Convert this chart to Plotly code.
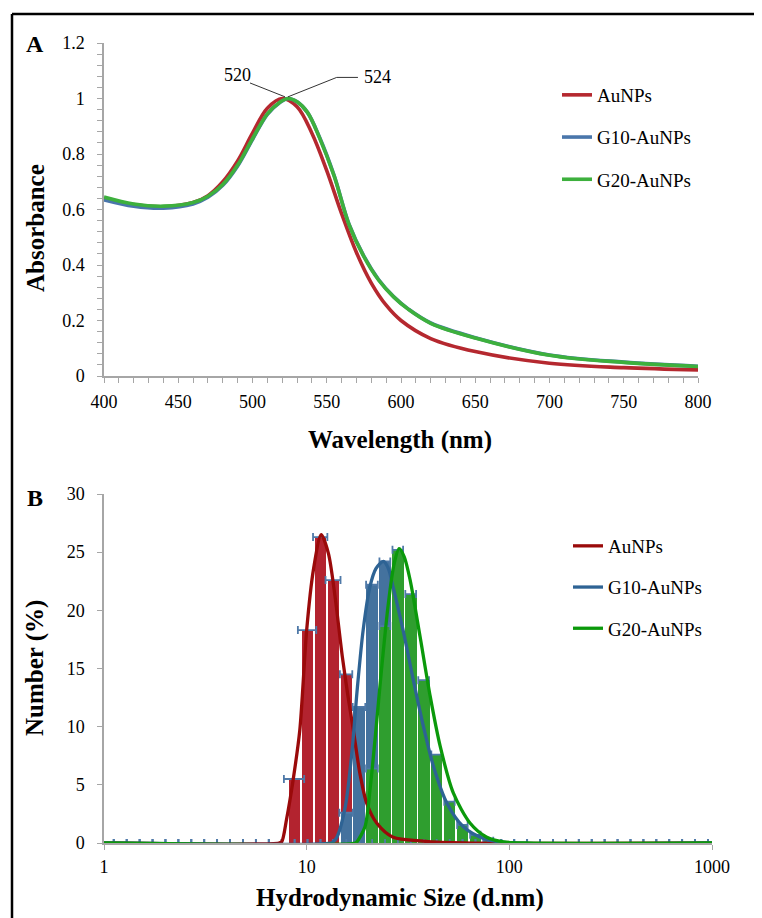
import plotly.graph_objects as go

# ---------------- Panel A: UV-vis spectra ----------------
wl_red = [400, 420, 440, 460, 470, 480, 490, 500, 510, 520, 530, 540, 550, 560, 570, 580, 590, 600, 620, 650, 700, 750, 800]
abs_red = [0.640, 0.618, 0.610, 0.625, 0.650, 0.700, 0.775, 0.875, 0.965, 1.000, 0.970, 0.875, 0.740, 0.585, 0.445, 0.335, 0.255, 0.200, 0.135, 0.088, 0.046, 0.030, 0.022]

wl_g10 = [400, 420, 440, 460, 470, 480, 490, 500, 510, 518, 524, 530, 537, 545, 555, 565, 575, 585, 595, 605, 620, 650, 700, 750, 800]
abs_g10 = [0.635, 0.612, 0.605, 0.620, 0.644, 0.687, 0.757, 0.852, 0.943, 0.984, 1.000, 0.988, 0.950, 0.862, 0.722, 0.547, 0.432, 0.347, 0.286, 0.241, 0.191, 0.138, 0.076, 0.050, 0.035]

wl_g20 = [400, 420, 440, 460, 470, 480, 490, 500, 510, 518, 524, 530, 537, 545, 555, 565, 575, 585, 595, 605, 620, 650, 700, 750, 800]
abs_g20 = [0.645, 0.620, 0.612, 0.625, 0.648, 0.690, 0.760, 0.855, 0.945, 0.985, 1.000, 0.988, 0.950, 0.860, 0.720, 0.545, 0.430, 0.345, 0.285, 0.240, 0.190, 0.137, 0.075, 0.049, 0.034]

# ---------------- Panel B: DLS number distribution ----------------
bins = [1.117, 1.294, 1.499, 1.736, 2.010, 2.328, 2.696, 3.122, 3.615, 4.187, 4.849, 5.615, 6.503, 7.531,
        8.721, 10.10, 11.70, 13.54, 15.69, 18.17, 21.04, 24.36, 28.21, 32.67, 37.84, 43.82, 50.75, 58.77,
        68.06, 78.82, 91.28, 105.7, 122.4, 141.8, 164.2, 190.1, 220.2, 255.0, 295.3, 342.0, 396.1, 458.7,
        531.2, 615.1, 712.4, 825.0, 955.4]

n = len(bins)
red_num = [0.0] * n
blue_num = [0.0] * n
green_num = [0.0] * n
red_err = [0.0] * n
blue_err = [0.0] * n
green_err = [0.0] * n

red_peak = {8.721: (5.5, 1.0), 10.10: (18.3, 1.05), 11.70: (26.3, 0.95), 13.54: (22.6, 1.15), 15.69: (14.5, 1.1)}
blue_peak = {15.69: (2.6, 1.2), 18.17: (11.7, 1.3), 21.04: (22.2, 1.4), 24.36: (24.2, 1.5),
             28.21: (19.0, None), 32.67: (11.5, None), 37.84: (5.5, None), 43.82: (2.2, None), 50.75: (0.7, None)}
green_peak = {21.04: (6.4, 1.4), 24.36: (18.65, 1.5), 28.21: (25.2, 1.7), 32.67: (21.4, 2.0), 37.84: (14.0, 2.3),
              43.82: (7.6, 2.6), 50.75: (3.55, 3.0), 58.77: (1.55, 3.5), 68.06: (0.7, 4.0), 78.82: (0.2, 4.5)}

for arr, err, peak in [(red_num, red_err, red_peak), (blue_num, blue_err, blue_peak), (green_num, green_err, green_peak)]:
    for b, (v, e) in peak.items():
        i = bins.index(b)
        arr[i] = v
        err[i] = e

# fitted curves
fit_red_x = [1, 7.3, 7.53, 7.95, 8.57, 9.25, 10.0, 10.8, 11.8, 12.8, 13.8, 15.0, 16.0, 17.0, 18.3, 19.8, 22.2, 26.7, 37.6, 60, 1000]
fit_red_y = [0, 0, 0.1, 2.0, 5.4, 9.7, 18.3, 23.5, 26.5, 24.9, 21.2, 16.0, 12.6, 9.7, 6.0, 3.4, 1.7, 0.5, 0.17, 0, 0]

fit_blue_x = [1, 13.2, 13.5, 14.1, 15.5, 16.7, 17.8, 19.0, 20.5, 22.0, 23.9, 25.3, 26.7, 29.9, 33.6, 37.7, 42.2, 49.3, 59.3, 74.5, 95, 1000]
fit_blue_y = [0, 0, 0.1, 0.5, 3.1, 7.7, 13.4, 18.3, 22.0, 23.6, 24.2, 23.6, 22.0, 18.3, 14.0, 10.0, 6.6, 3.4, 1.4, 0.4, 0.05, 0]

fit_green_x = [1, 17.4, 17.7, 19.4, 20.6, 21.8, 23.4, 25.3, 27.0, 28.6, 30.3, 32.4, 36.3, 40.7, 45.6, 52.9, 64.1, 77.4, 93.6, 120, 1000]
fit_green_y = [0, 0, 0.1, 1.4, 4.8, 9.1, 14.9, 20.6, 24.0, 25.3, 24.6, 22.6, 17.7, 12.6, 8.3, 4.3, 1.7, 0.5, 0.1, 0, 0]

peak_labels = ["13", "26", "32"]
peak_label_x = [11.65, 21.3, 28.3]
peak_label_y = [28.45, 25.76, 27.2]

series_names = ["AuNPs", "G10-AuNPs", "G20-AuNPs"]

FONT = "Liberation Serif"
W, H = 762, 918
OFF = 8  # page body margin in the browser

top_colors = ["#b5282f", "#4a76ab", "#3db03d"]
bar_colors = ["#b3232f", "#44729e", "#2f9e2f"]
line_colors = ["#9a0a0a", "#2e6394", "#0b990b"]
err_color = "#4f79a8"

fig = go.Figure()

# Panel A traces
for wl, ab, name, col in zip([wl_red, wl_g10, wl_g20], [abs_red, abs_g10, abs_g20], series_names, top_colors):
    fig.add_trace(go.Scatter(x=wl, y=ab, mode="lines", name=name, line=dict(color=col, width=3.6, shape="spline", smoothing=1.0),
                             xaxis="x", yaxis="y", legend="legend", legendgroup="a" + name))

# Panel B bars (log-centred bars, width a fraction of one log bin)
k = 10 ** 0.0284
for vals, col in zip([red_num, blue_num, green_num], bar_colors):
    fig.add_trace(go.Bar(x=bins, y=vals, marker=dict(color=col, line=dict(width=0)),
                         width=[b * (k - 1 / k) for b in bins], offset=[-b * (1 - 1 / k) for b in bins],
                         xaxis="x2", yaxis="y2", showlegend=False, hoverinfo="skip"))

# error bars (only where drawn)
for vals, errs in zip([red_num, blue_num, green_num], [red_err, blue_err, green_err]):
    xs = [b for b, e in zip(bins, errs) if e is not None]
    ys = [v for v, e in zip(vals, errs) if e is not None]
    es = [e for e in errs if e is not None]
    fig.add_trace(go.Scatter(x=xs, y=ys, mode="markers", marker=dict(size=1, opacity=0),
                             error_x=dict(type="data", array=es, color=err_color, thickness=1.8, width=4),
                             xaxis="x2", yaxis="y2", showlegend=False, hoverinfo="skip", cliponaxis=False))

# fitted curves
for fx, fy, name, col in zip([fit_red_x, fit_blue_x, fit_green_x], [fit_red_y, fit_blue_y, fit_green_y], series_names, line_colors):
    fig.add_trace(go.Scatter(x=fx, y=fy, mode="lines", name=name, line=dict(color=col, width=3.3, shape="spline", smoothing=0.8),
                             xaxis="x2", yaxis="y2", legend="legend2", legendgroup="b" + name))

axis_common = dict(showline=True, linecolor="#a6a6a6", linewidth=1.5, showgrid=False, zeroline=False,
                   ticks="outside", ticklen=5, tickcolor="#a6a6a6", tickwidth=1.2, automargin=False,
                   tickfont=dict(family=FONT, size=18, color="black"))

def px(x):
    return (x - OFF) / W

def py(y):
    return (H - y + OFF) / H

fig.update_layout(
    width=W, height=H, margin=dict(l=0, r=0, t=0, b=0, pad=0, autoexpand=False),
    paper_bgcolor="white", plot_bgcolor="white",
    barmode="overlay", bargap=0,
    font=dict(family=FONT, size=18, color="black"),
    xaxis=dict(domain=[px(104), px(698)], anchor="y", range=[400, 800], dtick=50, tick0=400,
               minor=dict(dtick=10, ticks="outside", ticklen=5, tickcolor="#a6a6a6"),
               ticklabelstandoff=4, **axis_common),
    yaxis=dict(domain=[py(376), py(43)], anchor="x", range=[0, 1.2], dtick=0.2,
               minor=dict(dtick=0.04, ticks="outside", ticklen=5, tickcolor="#a6a6a6"),
               ticklabelstandoff=9, **axis_common),
    xaxis2=dict(domain=[px(104), px(712)], anchor="y2", type="log", range=[0, 3],
                tickvals=[1, 10, 100, 1000], ticktext=["1", "10", "100", "1000"],
                ticklabelstandoff=2, **axis_common),
    yaxis2=dict(domain=[py(843), py(494)], anchor="x2", range=[0, 30], dtick=5,
                ticklabelstandoff=9, **axis_common),
    legend=dict(x=px(557), y=py(76), xanchor="left", yanchor="top", bgcolor="rgba(0,0,0,0)",
                font=dict(family=FONT, size=19, color="black"), tracegroupgap=14.5, itemwidth=30),
    legend2=dict(x=px(568), y=py(527), xanchor="left", yanchor="top", bgcolor="rgba(0,0,0,0)",
                 font=dict(family=FONT, size=19, color="black"), tracegroupgap=13.5, itemwidth=30),
)

ann = []
title_font = dict(family=FONT, size=25, color="black")
def add_text(text, x, y, font, angle=0, xref="paper", yref="paper"):
    ann.append(dict(text=text, x=x, y=y, xref=xref, yref=yref, textangle=angle, showarrow=False,
                    xanchor="center", yanchor="middle", font=font))

add_text("<b>Absorbance</b>", px(35), py(228), title_font, -90)
add_text("<b>Wavelength (nm)</b>", px(400), py(440), title_font)
add_text("<b>Number (%)</b>", px(35), py(668), title_font, -90)
add_text("<b>Hydrodynamic Size (d.nm)</b>", px(400), py(898), title_font)
add_text("<b>A</b>", px(35), py(44), dict(family=FONT, size=24, color="black"))
add_text("<b>B</b>", px(35), py(498), dict(family=FONT, size=24, color="black"))
# peak labels panel A
add_text("520", 489.6, 1.085, dict(family=FONT, size=18, color="black"), xref="x", yref="y")
add_text("524", 584.5, 1.076, dict(family=FONT, size=18, color="black"), xref="x", yref="y")
# peak labels panel B
for t, lx, ly in zip(peak_labels, peak_label_x, peak_label_y):
    add_text(t, lx, ly, dict(family=FONT, size=17, color="black"), xref="x2", yref="y2")
fig.update_layout(annotations=ann)

shapes = [
    dict(type="line", x0=498.3, y0=1.056, x1=521.9, y1=1.006, xref="x", yref="y", line=dict(color="#333", width=1)),
    dict(type="line", x0=523.9, y0=1.006, x1=556.7, y1=1.076, xref="x", yref="y", line=dict(color="#333", width=1)),
    dict(type="line", x0=556.7, y0=1.076, x1=571.0, y1=1.076, xref="x", yref="y", line=dict(color="#333", width=1)),
    dict(type="line", x0=px(12), y0=py(14), x1=1.0, y1=py(14), xref="paper", yref="paper", line=dict(color="black", width=2.5)),
    dict(type="line", x0=px(12), y0=py(14), x1=px(12), y1=0, xref="paper", yref="paper", line=dict(color="black", width=2.5)),
]
fig.update_layout(shapes=shapes)

fig.write_html("out.html")
